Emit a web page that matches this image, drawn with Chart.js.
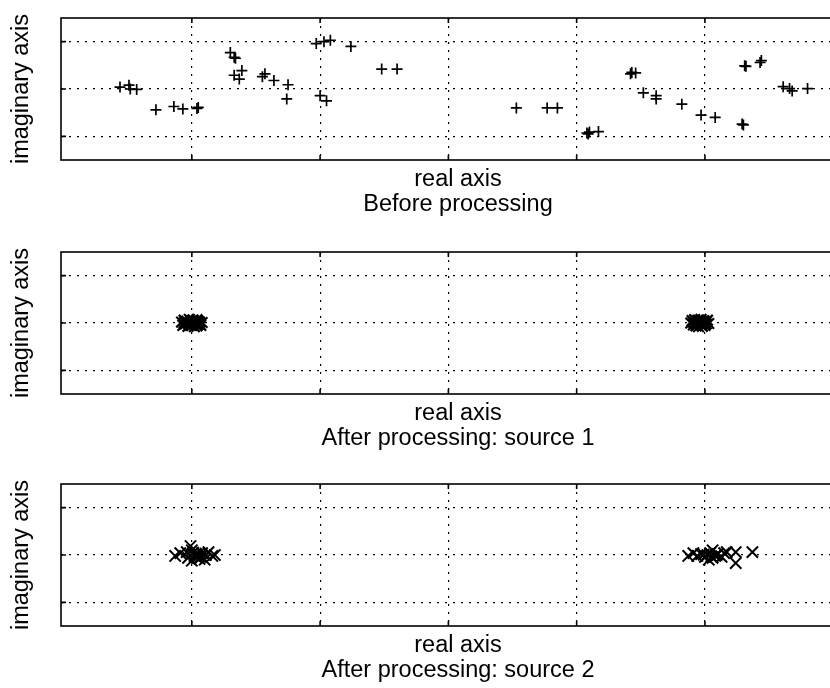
<!DOCTYPE html>
<html><head><meta charset="utf-8">
<script src="https://cdn.jsdelivr.net/npm/chart.js@4.4.0/dist/chart.umd.min.js"></script>
<style>
html,body{margin:0;padding:0;background:#fff;overflow:hidden;width:830px;height:688px;position:relative;}
.box{position:absolute;left:0;width:870px;height:230px;}
</style></head><body>
<div class="box" style="top:0px"><canvas id="c1" width="870" height="230"></canvas></div>
<div class="box" style="top:234px"><canvas id="c2" width="870" height="230"></canvas></div>
<div class="box" style="top:466px"><canvas id="c3" width="870" height="230"></canvas></div>
<script>
// ---- data ----
const xTicks = [-2, -1, 0, 1, 2];
const yTicks = [-1, 0, 1];
const xLabel = 'real axis';
const yLabel = 'imaginary axis';
const titles = ['Before processing', 'After processing: source 1', 'After processing: source 2'];

const beforeRe = [-2.56,-2.49,-2.48,-2.43,-2.28,-2.14,-2.07,-1.96,-1.95,-1.70,-1.67,-1.66,-1.67,-1.61,-1.63,-1.45,-1.43,-1.36,-1.25,-1.26,-1.03,-0.97,-0.92,-0.76,-1.00,-0.95,-0.52,-0.40,
  0.53,0.77,0.85,1.08,1.09,1.10,1.17,1.42,1.46,1.43,1.52,1.62,1.62,1.82,1.97,2.08,2.29,2.30,2.31,2.32,2.43,2.44,2.61,2.68,2.66,2.80];
const beforeIm = [0.04,0.08,0.00,-0.01,-0.44,-0.37,-0.42,-0.41,-0.39,0.77,0.67,0.65,0.29,0.39,0.21,0.26,0.32,0.18,0.09,-0.21,0.96,1.00,1.03,0.90,-0.14,-0.25,0.42,0.42,
  -0.40,-0.40,-0.40,-0.93,-0.95,-0.91,-0.90,0.32,0.34,0.35,-0.08,-0.14,-0.21,-0.32,-0.55,-0.60,-0.74,-0.76,0.49,0.48,0.56,0.60,0.05,-0.04,0.01,0.01];

const src1Re = [-2.08,-2.07,-2.06,-2.05,-2.04,-2.03,-2.02,-2.01,-2.00,-1.99,-1.98,-1.97,-1.96,-1.95,-1.94,-1.93,-1.92,-2.05,-2.01,-1.97,-2.03,-1.99,-2.00,-1.96,
  -2.04,-2.02,-2.00,-1.98,-1.96,-1.94,-2.06,-1.95,-2.01,-1.99,
  1.89,1.90,1.91,1.92,1.93,1.94,1.95,1.96,1.97,1.98,1.99,2.00,2.01,2.02,2.03,1.92,1.96,2.00,1.94,1.98,1.95,1.97,
  1.91,1.93,1.95,1.97,1.99,2.01,1.94,1.98,1.96,2.00];
const src1Im = [0.02,-0.05,0.06,-0.02,0.04,-0.07,0.08,0.00,-0.04,0.05,-0.08,0.03,0.07,-0.03,0.02,-0.05,0.01,0.00,0.03,-0.02,0.00,0.06,0.02,-0.06,
  0.01,-0.03,0.05,-0.01,0.03,-0.02,0.00,0.04,-0.05,0.01,
  0.00,0.05,-0.04,0.07,-0.06,0.02,-0.08,0.04,0.08,-0.02,0.05,-0.05,0.03,0.06,-0.01,0.00,0.01,0.02,-0.03,-0.07,0.06,0.00,
  0.02,-0.02,0.03,-0.04,0.01,-0.02,0.05,0.03,-0.01,0.00];

const src2Re = [-2.13,-2.09,-2.04,-2.01,-2.00,-1.98,-1.96,-1.95,-1.93,-1.92,-1.90,-1.89,-1.87,-1.84,-1.82,-2.03,-2.00,-1.97,-1.94,-1.99,
  1.87,1.91,1.94,1.97,2.00,2.02,2.04,2.06,2.08,2.10,2.13,2.15,2.17,2.24,2.24,2.37,2.03,2.06,1.99,2.05,2.09];
const src2Im = [-0.02,0.04,0.06,0.19,0.10,-0.02,-0.06,0.02,-0.04,0.04,-0.10,0.00,0.06,-0.02,0.00,-0.06,-0.12,0.03,-0.08,0.05,
  -0.02,0.04,-0.02,0.02,-0.04,0.00,0.04,-0.06,-0.02,0.02,-0.04,0.04,0.06,0.06,-0.17,0.06,-0.10,0.10,0.01,-0.03,0.00];

// ---- drawing ----
const FONT = "'Liberation Sans', Arial, Helvetica, sans-serif";
const frame = {
  id: 'frame',
  beforeDatasetsDraw(chart) {
    const {ctx, chartArea: a, scales: {x, y}} = chart;
    ctx.save();
    ctx.strokeStyle = '#000';
    ctx.lineWidth = 1.6;
    ctx.strokeRect(a.left, a.top, a.right - a.left, a.bottom - a.top);
    ctx.beginPath();
    x.ticks.forEach(t => {
      const p = x.getPixelForValue(t.value);
      ctx.moveTo(p, a.top); ctx.lineTo(p, a.top + 5);
      ctx.moveTo(p, a.bottom); ctx.lineTo(p, a.bottom - 5);
    });
    y.ticks.forEach(t => {
      const p = y.getPixelForValue(t.value);
      ctx.moveTo(a.left, p); ctx.lineTo(a.left + 5, p);
    });
    ctx.stroke();
    ctx.restore();
  }
};

function makeChart(id, re, im, style, radius, lw, title) {
  const pts = re.map((v, i) => ({x: v, y: im[i]}));
  return new Chart(document.getElementById(id), {
    type: 'scatter',
    data: { datasets: [{ data: pts, pointStyle: style, radius: radius, borderColor: '#000', backgroundColor: '#000', borderWidth: lw }] },
    options: {
      responsive: false, animation: false, devicePixelRatio: 1,
      layout: { padding: { top: 18, right: 15, left: 0, bottom: 0 } },
      plugins: { legend: { display: false }, tooltip: { enabled: false } },
      scales: {
        x: {
          type: 'linear', min: -3.02, max: 3.17,
          afterBuildTicks: s => { s.ticks = xTicks.map(v => ({value: v})); },
          afterFit: s => { s.height = 70; },
          ticks: { display: false },
          grid: { color: '#000', lineWidth: 1.2, drawTicks: false, tickLength: 0 },
          border: { display: false, dash: [2, 6] },
          title: { display: true, text: [xLabel, title], color: '#000',
                   font: { family: FONT, size: 23.5, lineHeight: 1.08 }, padding: { top: 0, bottom: 12.5 } }
        },
        y: {
          type: 'linear', min: -1.5, max: 1.5,
          afterBuildTicks: s => { s.ticks = yTicks.map(v => ({value: v})); },
          afterFit: s => { s.width = 61; },
          ticks: { display: false },
          grid: { color: '#000', lineWidth: 1.2, drawTicks: false, tickLength: 0 },
          border: { display: false, dash: [2, 6] },
          title: { display: true, text: yLabel, color: '#000',
                   font: { family: FONT, size: 23.5, lineHeight: 1.08 }, padding: { top: 9, bottom: 0 } }
        }
      }
    },
    plugins: [frame]
  });
}

makeChart('c1', beforeRe, beforeIm, 'cross', 5.5, 1.7, titles[0]);
makeChart('c2', src1Re, src1Im, 'crossRot', 7.5, 2.2, titles[1]);
makeChart('c3', src2Re, src2Im, 'crossRot', 8, 2.0, titles[2]);
</script>
</body></html>
